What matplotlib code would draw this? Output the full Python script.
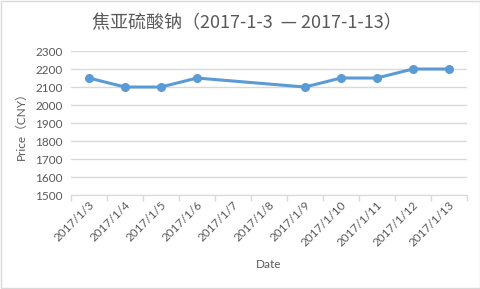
import numpy as np
import matplotlib
matplotlib.use("Agg")
import matplotlib.pyplot as plt
import matplotlib.ticker as mticker

dates = ["2017/1/3", "2017/1/4", "2017/1/5", "2017/1/6", "2017/1/7", "2017/1/8",
         "2017/1/9", "2017/1/10", "2017/1/11", "2017/1/12", "2017/1/13"]
prices = [2150, 2100, 2100, 2150, None, None, 2100, 2150, 2150, 2200, 2200]
y_ticks = [1500, 1600, 1700, 1800, 1900, 2000, 2100, 2200, 2300]

TEXT = "#595959"
GRID = "#D9D9D9"
BLUE = "#5B9BD5"

plt.rcParams["font.family"] = ["Lato", "Noto Sans CJK SC", "DejaVu Sans"]

fig = plt.figure(figsize=(4.81, 2.89), dpi=100)
ax = fig.add_axes([0.1476, 0.325, 0.823, 0.4985])

xs = [i for i, p in enumerate(prices) if p is not None]
ys = [p for p in prices if p is not None]
ax.plot(xs, ys, color=BLUE, linewidth=2.2, marker="o", markersize=5.5,
        solid_capstyle="round", zorder=3)

ax.set_xlim(-0.5, len(dates) - 0.5)
ax.set_ylim(y_ticks[0], y_ticks[-1])
ax.set_yticks(y_ticks)
ax.yaxis.grid(True, color=GRID, linewidth=1)
ax.set_axisbelow(True)

# ticks at category boundaries, labels at centers
ax.xaxis.set_major_locator(mticker.FixedLocator(np.arange(-0.5, len(dates), 1.0)))
ax.xaxis.set_major_formatter(mticker.NullFormatter())
ax.xaxis.set_minor_locator(mticker.FixedLocator(np.arange(len(dates))))
ax.xaxis.set_minor_formatter(mticker.FixedFormatter(dates))
ax.tick_params(axis="x", which="major", length=4, color=GRID, width=1)
ax.tick_params(axis="x", which="minor", length=0, labelsize=8.5, labelcolor=TEXT, pad=3)
ax.tick_params(axis="y", length=0, labelsize=8.5, labelcolor=TEXT, pad=6)
for lbl in ax.get_xticklabels(minor=True):
    lbl.set_rotation(45)
    lbl.set_ha("right")
    lbl.set_rotation_mode("anchor")

for side in ("top", "right", "left"):
    ax.spines[side].set_visible(False)
ax.spines["bottom"].set_color(GRID)

ax.set_xlabel("Date", fontsize=8.5, color=TEXT, labelpad=8)
ax.set_ylabel("Price（CNY）", fontsize=8.5, color=TEXT,
              family=["Lato", "Noto Sans CJK SC"], labelpad=6)

fig.text(0.513, 0.92, "焦亚硫酸钠（2017-1-3  — 2017-1-13）", ha="center", va="center",
         fontsize=13, color=TEXT, family=["Noto Sans CJK SC", "DejaVu Sans"])

fig.patches.append(plt.Rectangle((0.002, 0.003), 0.995, 0.993, transform=fig.transFigure,
                                 fill=False, edgecolor=GRID, linewidth=1))

fig.savefig("out.png", dpi=100)
